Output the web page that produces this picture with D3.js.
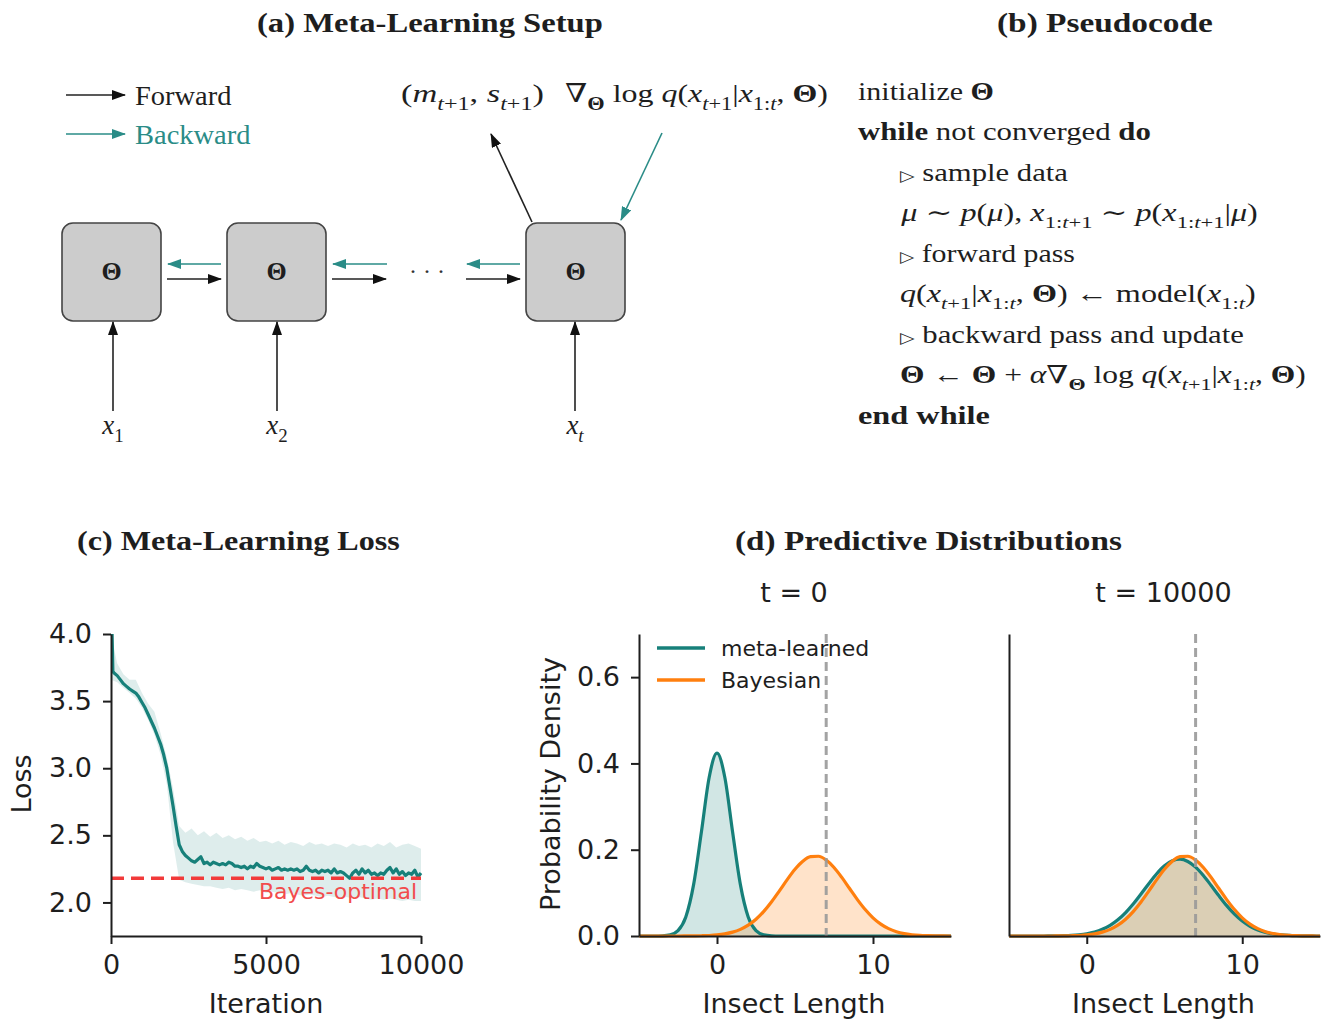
<!DOCTYPE html>
<html><head><meta charset="utf-8">
<script src="https://cdn.jsdelivr.net/npm/d3@7"></script>
<style>body{margin:0;background:#fff}svg text{white-space:pre}</style>
</head><body>
<svg id="fig" width="1324" height="1019"></svg>
<script>
// ---------------- DATA ----------------
// (c) meta-learning loss: [iteration, loss]
const lossCurve = [[0,4.40],[60,3.72],[100,3.71],[200,3.69],[300,3.66],[400,3.63],[500,3.61],[600,3.59],[700,3.575],[800,3.56],[900,3.53],[1000,3.49],[1100,3.45],[1200,3.40],[1300,3.35],[1400,3.30],[1500,3.24],[1600,3.18],[1700,3.10],[1800,3.00],[1900,2.86],[2000,2.72],[2100,2.57],[2200,2.43],[2300,2.38],[2400,2.35],[2500,2.33],[2600,2.31],[2700,2.30],[2800,2.32],[2900,2.34],[3000,2.29],[3100,2.30],[3200,2.28],[3300,2.30],[3400,2.29],[3500,2.28],[3600,2.29],[3700,2.28],[3800,2.30],[3900,2.29],[4000,2.27],[4100,2.27],[4200,2.26],[4300,2.27],[4400,2.25],[4500,2.27],[4600,2.26],[4700,2.29],[4800,2.27],[4900,2.26],[5000,2.25],[5100,2.26],[5200,2.24],[5300,2.25],[5400,2.26],[5500,2.24],[5600,2.25],[5700,2.24],[5800,2.25],[5900,2.24],[6000,2.25],[6100,2.23],[6200,2.24],[6300,2.27],[6400,2.24],[6500,2.23],[6600,2.24],[6700,2.22],[6800,2.24],[6900,2.23],[7000,2.24],[7100,2.22],[7200,2.25],[7300,2.22],[7400,2.23],[7500,2.22],[7600,2.20],[7700,2.18],[7800,2.22],[7900,2.24],[8000,2.21],[8100,2.25],[8200,2.22],[8300,2.24],[8400,2.21],[8500,2.22],[8600,2.20],[8700,2.22],[8800,2.21],[8900,2.24],[9000,2.26],[9100,2.22],[9200,2.25],[9300,2.21],[9400,2.23],[9500,2.20],[9600,2.22],[9700,2.21],[9800,2.24],[9900,2.19],[10000,2.22]];
const bandIter = [0,200,400,600,800,1000,1200,1400,1600,1800,2000,2200,2400,2600,2800,3000,3200,3400,3600,3800,4000,4200,4400,4600,4800,5000,5200,5400,5600,5800,6000,6200,6400,6600,6800,7000,7200,7400,7600,7800,8000,8200,8400,8600,8800,9000,9200,9400,9600,9800,10000];
const bandHigh = [4.00,3.78,3.70,3.66,3.66,3.56,3.48,3.42,3.26,3.08,2.85,2.57,2.52,2.55,2.50,2.53,2.49,2.52,2.48,2.50,2.47,2.49,2.46,2.48,2.45,2.46,2.44,2.46,2.43,2.45,2.44,2.42,2.45,2.43,2.44,2.42,2.44,2.43,2.41,2.44,2.42,2.43,2.41,2.44,2.42,2.45,2.41,2.43,2.44,2.42,2.40];
const bandLow  = [3.66,3.64,3.60,3.56,3.52,3.45,3.36,3.25,3.10,2.88,2.45,2.17,2.15,2.14,2.13,2.12,2.12,2.11,2.10,2.11,2.09,2.10,2.09,2.08,2.09,2.07,2.08,2.07,2.06,2.07,2.06,2.05,2.06,2.05,2.04,2.05,2.04,2.03,2.04,2.03,2.04,2.03,2.02,2.03,2.02,2.03,2.02,2.01,2.02,2.01,2.01];
const bayesOptimalLoss = 2.18;
const lossYTicks = [2.0, 2.5, 3.0, 3.5, 4.0];
const lossXTicks = [0, 5000, 10000];

// (d) predictive densities over insect length
const insectLength = [-5,-4.5,-4,-3.5,-3,-2.5,-2,-1.5,-1,-0.5,0,0.5,1,1.5,2,2.5,3,3.5,4,4.5,5,5.5,6,6.5,7,7.5,8,8.5,9,9.5,10,10.5,11,11.5,12,12.5,13,13.5,14,14.5,15];
const metaT0 = [0,0,0,0.0004,0.0026,0.0124,0.044,0.119,0.241,0.368,0.424,0.368,0.241,0.119,0.044,0.0124,0.0026,0.0004,0,0,0,0,0,0,0,0,0,0,0,0,0,0,0,0,0,0,0,0,0,0,0];
const bayesT0 = [0,0,0,0,0,0,0.0001,0.0003,0.0006,0.0012,0.0025,0.0049,0.0089,0.0154,0.0251,0.0389,0.0572,0.0795,0.1047,0.1307,0.1546,0.1732,0.1838,0.1848,0.1760,0.1588,0.1358,0.1100,0.0844,0.0613,0.0422,0.0275,0.0170,0.0100,0.0055,0.0029,0.0014,0.0007,0.0003,0.0001,0];
const metaT10000 = [0,0,0,0,0,0.0001,0.0003,0.0007,0.0014,0.0028,0.0052,0.0092,0.0155,0.0247,0.0376,0.0544,0.0748,0.0979,0.1219,0.1444,0.1627,0.1744,0.1780,0.1727,0.1595,0.1401,0.1171,0.0931,0.0704,0.0507,0.0347,0.0226,0.0140,0.0083,0.0046,0.0025,0.0013,0.0006,0.0003,0.0001,0];
const bayesT10000 = [0,0,0,0,0,0,0.0001,0.0003,0.0006,0.0012,0.0025,0.0049,0.0089,0.0154,0.0251,0.0389,0.0572,0.0795,0.1047,0.1307,0.1546,0.1732,0.1838,0.1848,0.1760,0.1588,0.1358,0.1100,0.0844,0.0613,0.0422,0.0275,0.0170,0.0100,0.0055,0.0029,0.0014,0.0007,0.0003,0.0001,0];
const trueLength = 7;
const densYTicks = [0.0, 0.2, 0.4, 0.6];
const densXTicks = [0, 10];
const legendLabels = ["meta-learned", "Bayesian"];

// ---------------- STYLE ----------------
const SERIF = "'Liberation Serif','DejaVu Serif',serif";
const SANS = "'DejaVu Sans',sans-serif";
const TEAL = "#17807a", ORANGE = "#ff7f0e", TEAL_A = "#2a8c87", INK = "#1e1e1e";
const svg = d3.select("#fig");

// ---------------- HELPERS ----------------
function mtext(parent, segs, o) {
  const t = parent.append("text").attr("x", o.x).attr("y", o.y)
    .attr("font-family", SERIF).attr("font-size", o.size).attr("fill", o.fill || INK);
  if (o.anchor) t.attr("text-anchor", o.anchor);
  if (o.weight) t.attr("font-weight", o.weight);
  let off = 0;
  segs.forEach(s => {
    const str = typeof s === "string" ? s : s[0];
    const f = typeof s === "string" ? "" : (s[1] || "");
    const sub = f.includes("_");
    const target = sub ? o.size * 0.3 : 0;
    const ts = t.append("tspan").text(str).attr("font-size", sub ? o.size * 0.7 : o.size);
    if (target !== off) { ts.attr("dy", target - off); off = target; }
    if (f.includes("i")) ts.attr("font-style", "italic");
    if (f.includes("b")) ts.attr("font-weight", "bold");
    if (f.includes("s")) ts.attr("font-family", SANS).attr("font-size", o.size * 0.62);
  });
  if (o.x2 !== undefined) {
    const bb = t.node().getBBox();
    const sx = (o.x2 - o.x) / bb.width;
    t.attr("transform", `translate(${o.x},0) scale(${sx},1) translate(${-bb.x},0)`);
  }
  return t;
}

// markers
const defs = svg.append("defs");
[["blk", "#111"], ["tea", TEAL_A]].forEach(([id, c]) => {
  defs.append("marker").attr("id", id).attr("markerUnits", "userSpaceOnUse")
    .attr("markerWidth", 14).attr("markerHeight", 10).attr("refX", 13).attr("refY", 5)
    .attr("orient", "auto")
    .append("path").attr("d", "M0,0 L14,5 L0,10 Z").attr("fill", c);
});
function arrow(x1, y1, x2, y2, col) {
  svg.append("line").attr("x1", x1).attr("y1", y1).attr("x2", x2).attr("y2", y2)
    .attr("stroke", col === "tea" ? TEAL_A : "#222").attr("stroke-width", 1.6)
    .attr("marker-end", `url(#${col})`);
}

// ---------------- TITLES ----------------
mtext(svg, ["(a) Meta-Learning Setup"], {x: 257, x2: 603, y: 32, size: 27, weight: "bold"});
mtext(svg, ["(b) Pseudocode"], {x: 997, x2: 1213, y: 32, size: 27, weight: "bold"});
mtext(svg, ["(c) Meta-Learning Loss"], {x: 77, x2: 400, y: 550, size: 27, weight: "bold"});
mtext(svg, ["(d) Predictive Distributions"], {x: 735, x2: 1122, y: 550, size: 27, weight: "bold"});

// ---------------- PANEL (a) ----------------
arrow(66, 95, 125, 95, "blk");
arrow(66, 134, 125, 134, "tea");
mtext(svg, ["Forward"], {x: 135, x2: 232, y: 105, size: 27});
mtext(svg, ["Backward"], {x: 135, x2: 251, y: 144, size: 27, fill: TEAL_A});

const boxesX = [62, 227, 526];
boxesX.forEach(bx => {
  svg.append("rect").attr("x", bx).attr("y", 223).attr("width", 99).attr("height", 98)
    .attr("rx", 11).attr("fill", "#cccccc").attr("stroke", "#444").attr("stroke-width", 1.6);
  mtext(svg, [["Θ", "b"]], {x: bx + 49.5, y: 280, size: 26, anchor: "middle"});
});
// horizontal arrows
[[221, 168], [387, 333], [520, 467]].forEach(([a, b]) => arrow(a, 264, b, 264, "tea"));
[[167, 221], [332, 386], [466, 520]].forEach(([a, b]) => arrow(a, 279, b, 279, "blk"));
svg.append("text").attr("x", 427).attr("y", 279).attr("text-anchor", "middle")
  .attr("font-family", SERIF).attr("font-size", 24).attr("fill", "#333").text("· · ·");
// input arrows
arrow(113, 411, 113, 322, "blk");
arrow(277, 411, 277, 322, "blk");
arrow(575, 411, 575, 322, "blk");
mtext(svg, [["x", "i"], ["1", "_"]], {x: 113, y: 434, size: 27, anchor: "middle"});
mtext(svg, [["x", "i"], ["2", "_"]], {x: 277, y: 434, size: 27, anchor: "middle"});
mtext(svg, [["x", "i"], ["t", "_i"]], {x: 575, y: 434, size: 27, anchor: "middle"});
// outputs
arrow(532, 222, 491, 134, "blk");
arrow(662, 133, 621, 220, "tea");
mtext(svg, ["(", ["m", "i"], ["t", "_i"], ["+1", "_"], ", ", ["s", "i"], ["t", "_i"], ["+1", "_"], ")"],
  {x: 401, x2: 544, y: 102, size: 26});
mtext(svg, ["∇", ["Θ", "_b"], " log ", ["q", "i"], "(", ["x", "i"], ["t", "_i"], ["+1", "_"], "|", ["x", "i"], ["1:", "_"], ["t", "_i"], ", ", ["Θ", "b"], ")"],
  {x: 565, x2: 828, y: 102, size: 26});

// ---------------- PANEL (b) ----------------
const code = [
  {x: 858, x2: 994, y: 100, s: ["initialize ", ["Θ", "b"]]},
  {x: 858, x2: 1151, y: 140, s: [["while", "b"], " not converged ", ["do", "b"]]},
  {x: 900, x2: 1068, y: 181, s: [["▷", "s"], " sample data"]},
  {x: 900, x2: 1258, y: 221, s: [["μ", "i"], " ∼ ", ["p", "i"], "(", ["μ", "i"], "), ", ["x", "i"], ["1:", "_"], ["t", "_i"], ["+1", "_"], " ∼ ", ["p", "i"], "(", ["x", "i"], ["1:", "_"], ["t", "_i"], ["+1", "_"], "|", ["μ", "i"], ")"]},
  {x: 900, x2: 1075, y: 262, s: [["▷", "s"], " forward pass"]},
  {x: 900, x2: 1256, y: 302, s: [["q", "i"], "(", ["x", "i"], ["t", "_i"], ["+1", "_"], "|", ["x", "i"], ["1:", "_"], ["t", "_i"], ", ", ["Θ", "b"], ") ← model(", ["x", "i"], ["1:", "_"], ["t", "_i"], ")"]},
  {x: 900, x2: 1244, y: 343, s: [["▷", "s"], " backward pass and update"]},
  {x: 900, x2: 1306, y: 383, s: [["Θ", "b"], " ← ", ["Θ", "b"], " + ", ["α", "i"], "∇", ["Θ", "_b"], " log ", ["q", "i"], "(", ["x", "i"], ["t", "_i"], ["+1", "_"], "|", ["x", "i"], ["1:", "_"], ["t", "_i"], ", ", ["Θ", "b"], ")"]},
  {x: 858, x2: 990, y: 424, s: [["end while", "b"]]}
];
code.forEach(c => mtext(svg, c.s, {x: c.x, x2: c.x2, y: c.y, size: 25}));

// ---------------- AXIS STYLE ----------------
function styleAxis(g) {
  g.select(".domain").attr("stroke", INK).attr("stroke-width", 2);
  g.selectAll(".tick line").attr("stroke", INK).attr("stroke-width", 2);
  g.selectAll(".tick text").attr("font-family", SANS).attr("font-size", 27).attr("fill", INK);
}
function label(x, y, txt, rot) {
  svg.append("text").attr("transform", `translate(${x},${y}) rotate(${rot || 0})`)
    .attr("text-anchor", "middle").attr("font-family", SANS).attr("font-size", 27)
    .attr("fill", INK).text(txt);
}

// ---------------- PANEL (c) ----------------
const lx = d3.scaleLinear([0, 10000], [111, 421]);
const ly = d3.scaleLinear([1.75, 4.0], [936, 634]);
defs.append("clipPath").attr("id", "clipLoss").append("rect")
  .attr("x", 111).attr("y", 634).attr("width", 312).attr("height", 302);
const gl = svg.append("g").attr("clip-path", "url(#clipLoss)");
gl.append("path").datum(bandIter.map((it, i) => [it, bandLow[i], bandHigh[i]]))
  .attr("d", d3.area().x(d => lx(d[0])).y0(d => ly(d[1])).y1(d => ly(d[2])))
  .attr("fill", TEAL).attr("fill-opacity", 0.14);
gl.append("path").datum(lossCurve)
  .attr("d", d3.line().x(d => lx(d[0])).y(d => ly(d[1])))
  .attr("fill", "none").attr("stroke", TEAL).attr("stroke-width", 3.2).attr("stroke-linejoin", "round");
svg.append("line").attr("x1", lx(0)).attr("x2", lx(10000))
  .attr("y1", ly(bayesOptimalLoss)).attr("y2", ly(bayesOptimalLoss))
  .attr("stroke", "#f23a3a").attr("stroke-width", 3.5).attr("stroke-dasharray", "13,7");
svg.append("text").attr("x", 417).attr("y", 899).attr("text-anchor", "end")
  .attr("font-family", SANS).attr("font-size", 22).attr("fill", "#f24c4c").text("Bayes-optimal");
svg.append("g").attr("transform", "translate(111,0)")
  .call(d3.axisLeft(ly).tickValues(lossYTicks).tickFormat(d3.format(".1f")).tickSize(8).tickPadding(11).tickSizeOuter(0))
  .call(styleAxis);
svg.append("g").attr("transform", "translate(0,936)")
  .call(d3.axisBottom(lx).tickValues(lossXTicks).tickFormat(d3.format("d")).tickSize(8).tickPadding(11).tickSizeOuter(0))
  .call(styleAxis);
label(266, 1013, "Iteration");
label(31, 784, "Loss", -90);

// ---------------- PANEL (d) ----------------
const dy = d3.scaleLinear([0, 0.7], [936, 634]);
function densPanel(x0, x1, meta, bayes, title, showY) {
  const dx = d3.scaleLinear([-5, 15], [x0, x1]);
  const area = d3.area().x((d, i) => dx(insectLength[i])).y0(dy(0)).y1(d => dy(d)).curve(d3.curveMonotoneX);
  const line = d3.line().x((d, i) => dx(insectLength[i])).y(d => dy(d)).curve(d3.curveMonotoneX);
  const g = svg.append("g");
  g.append("path").datum(meta).attr("d", area).attr("fill", TEAL).attr("fill-opacity", 0.2);
  g.append("path").datum(bayes).attr("d", area).attr("fill", ORANGE).attr("fill-opacity", 0.22);
  g.append("path").datum(meta).attr("d", line).attr("fill", "none").attr("stroke", TEAL).attr("stroke-width", 3.2);
  g.append("path").datum(bayes).attr("d", line).attr("fill", "none").attr("stroke", ORANGE).attr("stroke-width", 3.2);
  g.append("line").attr("x1", dx(trueLength)).attr("x2", dx(trueLength)).attr("y1", dy(0.7)).attr("y2", dy(0))
    .attr("stroke", "#999").attr("stroke-opacity", 0.9).attr("stroke-width", 3).attr("stroke-dasharray", "9,5");
  svg.append("g").attr("transform", `translate(${x0},0)`)
    .call(d3.axisLeft(dy).tickValues(showY ? densYTicks : []).tickFormat(d3.format(".1f")).tickSize(8).tickPadding(11).tickSizeOuter(0))
    .call(styleAxis);
  svg.append("g").attr("transform", "translate(0,936)")
    .call(d3.axisBottom(dx).tickValues(densXTicks).tickFormat(d3.format("d")).tickSize(8).tickPadding(11).tickSizeOuter(0))
    .call(styleAxis);
  label((x0 + x1) / 2 - 1, 1013, "Insect Length");
  svg.append("text").attr("x", (x0 + x1) / 2 - 1).attr("y", 602).attr("text-anchor", "middle")
    .attr("font-family", SANS).attr("font-size", 27).attr("fill", INK).text(title);
  return dx;
}
densPanel(639, 951, metaT0, bayesT0, "t = 0", true);
densPanel(1009, 1320, metaT10000, bayesT10000, "t = 10000", false);
label(560, 784, "Probability Density", -90);

// legend
[[TEAL, 648], [ORANGE, 680]].forEach(([c, yy], i) => {
  svg.append("line").attr("x1", 657).attr("x2", 705).attr("y1", yy).attr("y2", yy)
    .attr("stroke", c).attr("stroke-width", 3.5);
  svg.append("text").attr("x", 721).attr("y", yy).attr("dy", "0.36em")
    .attr("font-family", SANS).attr("font-size", 22).attr("fill", INK).text(legendLabels[i]);
});
</script>
</body></html>
